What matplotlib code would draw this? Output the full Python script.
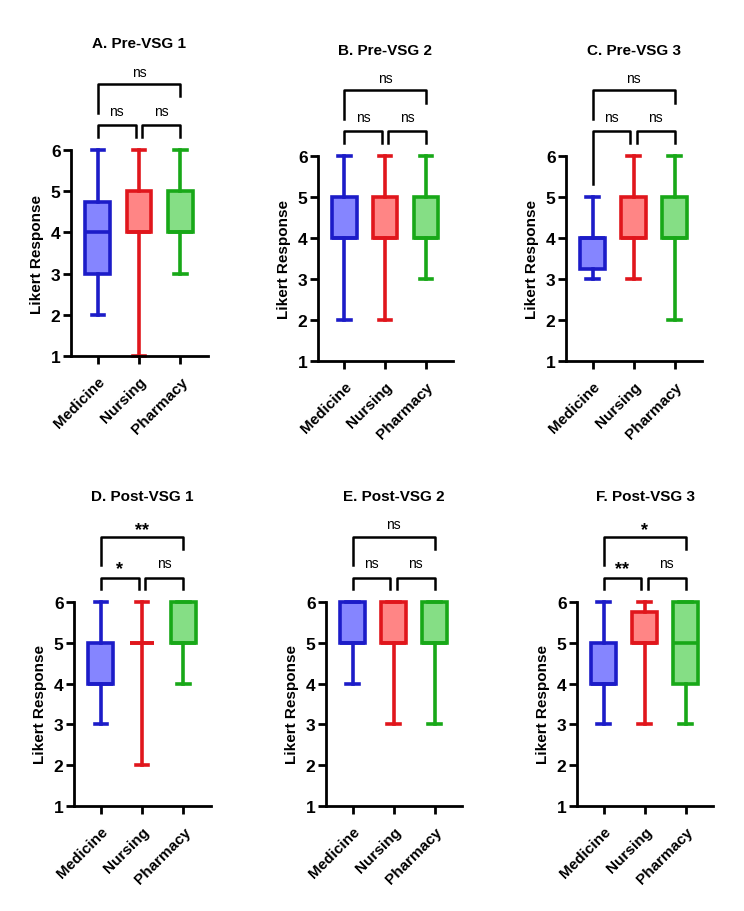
import matplotlib
matplotlib.use("Agg")
import matplotlib.pyplot as plt

plt.rcParams['font.family'] = ['Liberation Sans', 'DejaVu Sans']

groups = ["Medicine", "Nursing", "Pharmacy"]
titles = ["A. Pre-VSG 1", "B. Pre-VSG 2", "C. Pre-VSG 3",
          "D. Post-VSG 1", "E. Post-VSG 2", "F. Post-VSG 3"]

# (min, q1, median, q3, max) for Medicine, Nursing, Pharmacy
pre1 = [(2, 3, 4, 4.75, 6), (1, 4, 4, 5, 6), (3, 4, 4, 5, 6)]
pre2 = [(2, 4, 4, 5, 6), (2, 4, 4, 5, 6), (3, 4, 4, 5, 6)]
pre3 = [(3, 3.25, 4, 4, 5), (3, 4, 4, 5, 6), (2, 4, 4, 5, 6)]
post1 = [(3, 4, 4, 5, 6), (2, 5, 5, 5, 6), (4, 5, 5, 6, 6)]
post2 = [(4, 5, 5, 6, 6), (3, 5, 5, 6, 6), (3, 5, 5, 6, 6)]
post3 = [(3, 4, 4, 5, 6), (3, 5, 5, 5.75, 6), (3, 4, 5, 6, 6)]
panels = [pre1, pre2, pre3, post1, post2, post3]

# significance: (Med vs Nur, Nur vs Pha, Med vs Pha)
sig = [("ns", "ns", "ns"), ("ns", "ns", "ns"), ("ns", "ns", "ns"),
       ("*", "ns", "**"), ("ns", "ns", "ns"), ("**", "ns", "*")]

edge_colors = ["#1c1cc8", "#e0161c", "#18a818"]
face_colors = ["#8585ff", "#ff8585", "#85de85"]

# axes boxes in pixels: left, top(y=6), right, bottom(y=1)
boxes_px = [(71, 151, 208, 357), (318, 157, 453, 362), (566, 157, 702, 362),
            (74, 603, 211, 807), (326, 603, 462, 807), (577, 603, 713, 807)]

W, H = 744, 912
fig = plt.figure(figsize=(W / 100, H / 100), dpi=100)


def label_text(ax, x, y, s):
    if "*" in s:
        ax.text(x, y - 0.12, s, ha="center", va="center", fontsize=13,
                fontweight="bold", clip_on=False)
    else:
        ax.text(x, y, s, ha="center", va="center", fontsize=10, clip_on=False)


for k in range(6):
    l, t, r, b = boxes_px[k]
    ax = fig.add_axes([l / W, 1 - b / H, (r - l) / W, (b - t) / H])
    data = panels[k]
    stats = []
    for d in data:
        stats.append(dict(whislo=d[0], q1=d[1], med=d[2], q3=d[3], whishi=d[4], fliers=[]))
    for i in range(3):
        bp = ax.bxp([stats[i]], positions=[i], widths=0.6, patch_artist=True,
                    showfliers=False, manage_ticks=False,
                    boxprops=dict(facecolor=face_colors[i], edgecolor=edge_colors[i], linewidth=2.6),
                    whiskerprops=dict(color=edge_colors[i], linewidth=2.6),
                    capprops=dict(color=edge_colors[i], linewidth=2.6),
                    medianprops=dict(color=edge_colors[i], linewidth=2.6),
                    capwidths=0.3)
        for art in bp["boxes"] + bp["whiskers"] + bp["caps"] + bp["medians"]:
            art.set_clip_on(False)

    ax.set_xlim(-0.65, 2.67)
    ax.set_ylim(1, 6)
    ax.set_yticks([1, 2, 3, 4, 5, 6])
    ax.set_xticks([0, 1, 2])
    ax.set_xticklabels(groups, rotation=45, ha="right", rotation_mode="anchor",
                       fontsize=11, fontweight="bold")
    for lab in ax.get_yticklabels():
        lab.set_fontsize(12.5)
        lab.set_fontweight("bold")
    ax.tick_params(axis="both", direction="out", length=6, width=2, pad=1.5)
    ax.tick_params(axis="x", pad=7)
    for side in ["top", "right"]:
        ax.spines[side].set_visible(False)
    for side in ["left", "bottom"]:
        ax.spines[side].set_linewidth(2)
    ax.set_ylabel("Likert Response", fontsize=11, fontweight="bold", labelpad=5)
    ax.set_title(titles[k], fontsize=11, fontweight="bold", y=1.5, pad=0)

    # significance brackets
    hi = [d[4] for d in data]
    lw = 1.8
    y1 = 6.6
    ax.plot([0, 0, 0.92, 0.92], [hi[0] + 0.32, y1, y1, 6.32], color="black", lw=lw, clip_on=False)
    ax.plot([1.08, 1.08, 2, 2], [6.32, y1, y1, hi[2] + 0.32], color="black", lw=lw, clip_on=False)
    y2 = 7.6
    ax.plot([0, 0, 2, 2], [6.9, y2, y2, 7.3], color="black", lw=lw, clip_on=False)
    label_text(ax, 0.46, 6.95, sig[k][0])
    label_text(ax, 1.54, 6.95, sig[k][1])
    label_text(ax, 1.0, 7.9, sig[k][2])

fig.savefig("out.png", dpi=100)
